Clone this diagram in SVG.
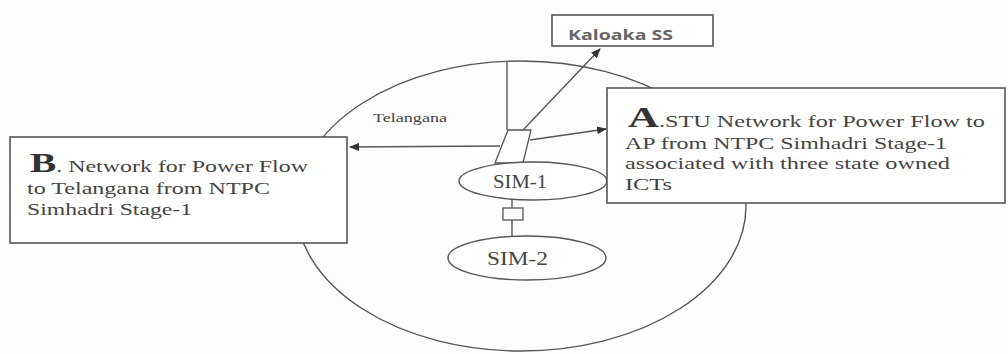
<svg xmlns="http://www.w3.org/2000/svg" width="1008" height="354" viewBox="0 0 1008 354">
<defs>
<marker id="ah" markerWidth="10" markerHeight="8" refX="9" refY="4" orient="auto" markerUnits="userSpaceOnUse">
<path d="M0,0 L10,4 L0,8 z" fill="#333"/>
</marker>
<style>
.ln{fill:none;stroke:#555;stroke-width:1.4}
.bx{fill:#fff;stroke:#555;stroke-width:1.6}
.t{font-family:"Liberation Serif",serif;fill:#444;font-size:17px}
.big{font-family:"Liberation Serif",serif;fill:#333;font-weight:bold;font-size:28px}
</style>
</defs>
<rect width="1008" height="354" fill="#fdfdfd"/>
<g id="region">
<ellipse cx="521" cy="206" rx="225" ry="145" class="ln"/>
<text x="373" y="122" class="t" style="font-size:12px" textLength="74" lengthAdjust="spacingAndGlyphs">Telangana</text>
</g>
<g id="connectors">
<line x1="507" y1="61" x2="507" y2="130" class="ln"/>
<line x1="523" y1="130" x2="600" y2="49" class="ln" marker-end="url(#ah)"/>
<line x1="500" y1="146" x2="350" y2="147" class="ln" marker-end="url(#ah)"/>
<line x1="530" y1="140" x2="606" y2="129" class="ln" marker-end="url(#ah)"/>
<line x1="512" y1="200" x2="512" y2="208" class="ln"/>
<line x1="512" y1="220" x2="512" y2="236" class="ln"/>
</g>
<g id="switch1">
<polygon points="508,130 531,130 523,163 495,163" class="bx" style="stroke-width:1.3"/>
</g>
<g id="switch2">
<rect x="503" y="208" width="20" height="12" class="bx" style="stroke-width:1.3"/>
</g>
<g id="kaloaka">
<rect x="552" y="15" width="161" height="31" class="bx"/>
<text x="568" y="40" style="font-family:'Open Sans','Liberation Sans',sans-serif;font-weight:bold;font-size:14px;fill:#666" textLength="105" lengthAdjust="spacingAndGlyphs">Kaloaka SS</text>
</g>
<g id="sim1">
<ellipse cx="533" cy="181" rx="74" ry="19" class="bx" style="stroke-width:1.4"/>
<text x="493" y="188" class="t" style="font-size:18px" textLength="54" lengthAdjust="spacingAndGlyphs">SIM-1</text>
</g>
<g id="sim2">
<ellipse cx="527" cy="258" rx="79" ry="22" class="bx" style="stroke-width:1.4"/>
<text x="487" y="265" class="t" style="font-size:18px" textLength="61" lengthAdjust="spacingAndGlyphs">SIM-2</text>
</g>
<g id="boxB">
<rect x="10" y="137" width="337" height="106" class="bx"/>
<text x="30" y="172" class="t" textLength="278" lengthAdjust="spacingAndGlyphs"><tspan class="big">B</tspan>. Network for Power Flow</text>
<text x="27" y="194" class="t" textLength="243" lengthAdjust="spacingAndGlyphs">to Telangana from NTPC</text>
<text x="27" y="215" class="t" textLength="165" lengthAdjust="spacingAndGlyphs">Simhadri Stage-1</text>
</g>
<g id="boxA">
<rect x="607" y="88" width="398" height="115" class="bx"/>
<text x="628" y="127" class="t" textLength="357" lengthAdjust="spacingAndGlyphs"><tspan class="big" style="font-size:30px">A</tspan>.STU Network for Power Flow to</text>
<text x="625" y="149" class="t" textLength="322" lengthAdjust="spacingAndGlyphs">AP from NTPC Simhadri Stage-1</text>
<text x="625" y="169" class="t" textLength="325" lengthAdjust="spacingAndGlyphs">associated with three state owned</text>
<text x="625" y="190" class="t" textLength="47" lengthAdjust="spacingAndGlyphs">ICTs</text>
</g>
</svg>
